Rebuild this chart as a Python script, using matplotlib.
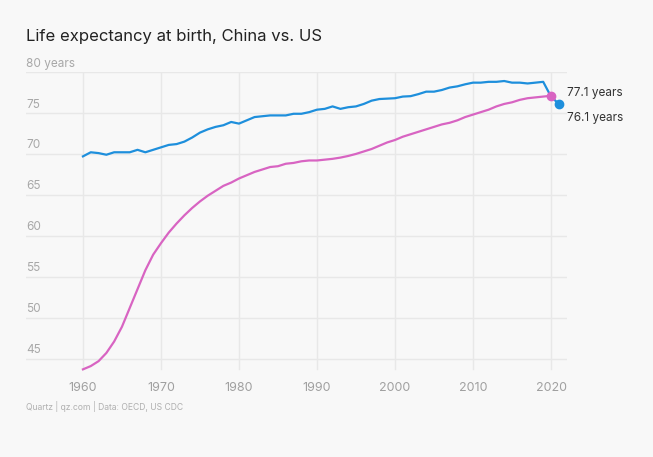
import matplotlib.pyplot as plt

plt.rcParams['font.family'] = ['Inter', 'DejaVu Sans']

years_us = list(range(1960, 2022))
us = [69.7, 70.2, 70.1, 69.9, 70.2, 70.2, 70.2, 70.5, 70.2, 70.5,
      70.8, 71.1, 71.2, 71.5, 72.0, 72.6, 73.0, 73.3, 73.5, 73.9,
      73.7, 74.1, 74.5, 74.6, 74.7, 74.7, 74.7, 74.9, 74.9, 75.1,
      75.4, 75.5, 75.8, 75.5, 75.7, 75.8, 76.1, 76.5, 76.7, 76.75,
      76.8, 77.0, 77.05, 77.3, 77.6, 77.6, 77.8, 78.1, 78.25, 78.5,
      78.7, 78.7, 78.8, 78.8, 78.9, 78.7, 78.7, 78.6, 78.7, 78.8,
      77.0, 76.1]

years_cn = list(range(1960, 2021))
china = [43.7, 44.1, 44.7, 45.7, 47.1, 48.9, 51.2, 53.5, 55.8, 57.7,
         59.1, 60.4, 61.5, 62.5, 63.4, 64.2, 64.9, 65.5, 66.1, 66.5,
         67.0, 67.4, 67.8, 68.1, 68.4, 68.5, 68.8, 68.9, 69.1, 69.2,
         69.2, 69.3, 69.4, 69.55, 69.75, 70.0, 70.3, 70.6, 71.0, 71.4,
         71.7, 72.1, 72.4, 72.7, 73.0, 73.3, 73.6, 73.8, 74.1, 74.5,
         74.8, 75.1, 75.4, 75.8, 76.1, 76.3, 76.6, 76.8, 76.9, 77.0,
         77.1]

y_ticks = [45, 50, 55, 60, 65, 70, 75, 80]
y_labels = ['45', '50', '55', '60', '65', '70', '75', '80 years']
x_ticks = [1960, 1970, 1980, 1990, 2000, 2010, 2020]

blue = '#1e8fdc'
pink = '#d864c2'
bg = '#f8f8f8'

fig = plt.figure(figsize=(6.53, 4.57), dpi=100, facecolor=bg)
ax = fig.add_axes([26 / 653, 86 / 457, 541 / 653, 299 / 457], facecolor=bg)
ax.set_xlim(1952.7, 2022.05)
ax.set_ylim(43.5, 80)

# grid
for v, lab in zip(y_ticks, y_labels):
    ax.axhline(v, color='#e8e8e8', lw=1, zorder=0)
    ax.text(1952.7, v + 0.3, lab, color='#a8a8a8',
            fontsize=8.5, ha='left', va='bottom')
for yr in x_ticks:
    ax.plot([yr, yr], [43.7, 80], color='#e8e8e8', lw=1, zorder=0)
    ax.text(yr, 42.2, str(yr), color='#a0a0a0', fontsize=9,
            ha='center', va='top')

ax.plot(years_cn, china, color=pink, lw=1.6, zorder=3, clip_on=False)
ax.plot(years_us, us, color=blue, lw=1.6, zorder=3, clip_on=False)
ax.plot(years_cn[-1], china[-1], 'o', color=pink, ms=6, zorder=4, clip_on=False)
ax.plot(years_us[-1], us[-1], 'o', color=blue, ms=6, zorder=4, clip_on=False)

ax.text(2022.05, 77.4, f'{china[-1]} years', fontsize=8.5, color='#333333',
        ha='left', va='center')
ax.text(2022.05, 74.4, f'{us[-1]} years', fontsize=8.5, color='#333333',
        ha='left', va='center')

for s in ax.spines.values():
    s.set_visible(False)
ax.set_xticks([])
ax.set_yticks([])

fig.text(26 / 653, 1 - 36 / 457, 'Life expectancy at birth, China vs. US',
         fontsize=12, color='#222222', ha='left', va='center')
fig.text(26 / 653, 1 - 406 / 457, 'Quartz | qz.com | Data: OECD, US CDC',
         fontsize=6.2, color='#b0b0b0', ha='left', va='center')

fig.savefig('out.png', dpi=100, facecolor=bg)
